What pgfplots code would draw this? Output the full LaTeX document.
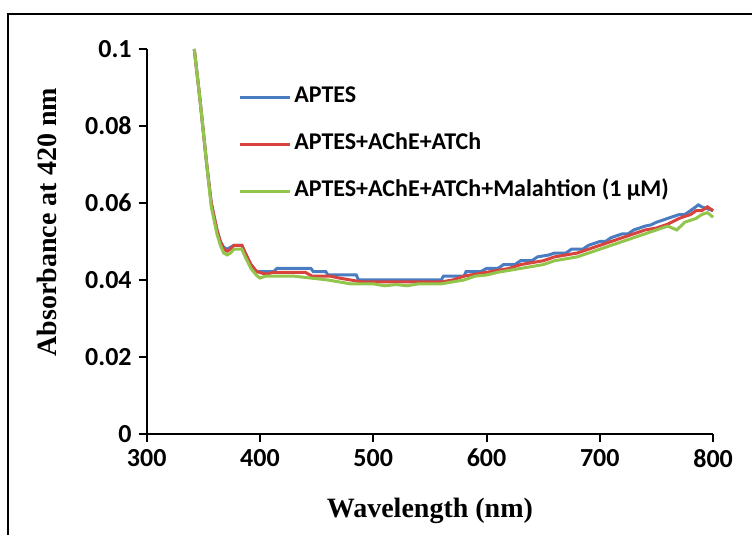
\documentclass[border=0pt]{standalone}
\usepackage{fontspec}
\setmainfont{Liberation Serif}
\newfontfamily\carlito{Carlito}
\usepackage{pgfplots}
\pgfplotsset{compat=1.18}
\definecolor{cblue}{HTML}{4A7CC2}
\definecolor{cred}{HTML}{D8433E}
\definecolor{cgreen}{HTML}{92C54B}
\begin{document}
\begin{tikzpicture}
\begin{axis}[
  at={(0pt,0pt)}, anchor=south west,
  scale only axis, width=283.2pt, height=192.5pt,
  xmin=300, xmax=800, ymin=0, ymax=0.1,
  axis x line*=bottom, axis y line*=left,
  axis line style={line width=1pt, black},
  tick align=outside, major tick length=4pt,
  tick style={line width=1pt, black},
  xtick={300,400,500,600,700,800},
  ytick={0,0.02,0.04,0.06,0.08,0.1},
  yticklabels={0,0.02,0.04,0.06,0.08,0.1},
  scaled y ticks=false,
  /pgf/number format/assume math mode=true,
  ticklabel style={font=\carlito\bfseries\fontsize{13}{15}\selectfont},
  clip=false,
  xlabel={Wavelength (nm)},
  ylabel={Absorbance at 420 nm},
  xlabel style={font=\bfseries\fontsize{14}{16}\selectfont, at={(axis description cs:0.5,-0.218)}, anchor=base},
  ylabel style={font=\bfseries\fontsize{14}{16}\selectfont, at={(axis description cs:-0.176,0.55)}, anchor=center},
  legend style={at={(axis description cs:0.161,0.905)}, anchor=north west, draw=none, fill=none,
    inner sep=0pt, row sep=12pt,
    font=\carlito\bfseries\fontsize{12}{14}\selectfont,
    nodes={inner sep=0pt, text height=8.5pt, text depth=3pt}},
  legend cell align=left,
  legend image code/.code={\draw[#1] (0pt,0pt) -- (25pt,0pt); \path (26.5pt,0pt);},
  every axis plot/.append style={line width=1.5pt},
]
\addplot[cblue] coordinates {
(342,0.100) (347,0.087) (353,0.070) (357,0.060) (362,0.053) (365,0.050) (368,0.0485)
(371,0.048) (374,0.0485) (377,0.049) (384,0.049) (387,0.047) (392,0.044) (397,0.0422)
(405,0.0422) (412,0.0422) (415,0.043) (425,0.043) (435,0.043) (445,0.043) (447,0.0422)
(458,0.0422) (460,0.0413) (470,0.0413) (485,0.0413) (487,0.040) (500,0.040) (520,0.040)
(540,0.040) (560,0.040) (562,0.041) (580,0.041) (582,0.0422) (595,0.0422) (600,0.043)
(610,0.043) (615,0.044) (625,0.044) (630,0.045) (640,0.045) (645,0.046) (655,0.0465)
(660,0.047) (670,0.047) (675,0.048) (685,0.048) (690,0.049) (700,0.050) (705,0.050)
(710,0.051) (720,0.052) (725,0.052) (730,0.053) (740,0.054) (745,0.0543) (750,0.055)
(760,0.056) (770,0.057) (775,0.057) (780,0.058) (787,0.0595) (790,0.059) (795,0.0585) (800,0.058)
};
\addlegendentry{APTES}
\addplot[cred] coordinates {
(342,0.100) (347,0.087) (353,0.070) (357,0.060) (362,0.053) (365,0.050) (368,0.048)
(371,0.0475) (374,0.048) (377,0.049) (384,0.049) (387,0.047) (392,0.044) (397,0.0422)
(405,0.0415) (412,0.042) (420,0.042) (432,0.042) (440,0.042) (446,0.041) (455,0.041)
(462,0.041) (470,0.0405) (480,0.040) (490,0.0395) (500,0.0395) (520,0.0395) (540,0.0395)
(560,0.0395) (570,0.040) (580,0.041) (590,0.0415) (600,0.042) (610,0.0425) (620,0.043)
(630,0.044) (640,0.0445) (650,0.045) (660,0.046) (670,0.0465) (680,0.047) (690,0.048)
(700,0.049) (710,0.050) (720,0.051) (730,0.052) (740,0.053) (750,0.0535) (760,0.0545)
(770,0.056) (780,0.057) (785,0.058) (790,0.058) (795,0.059) (800,0.058)
};
\addlegendentry{APTES+AChE+ATCh}
\addplot[cgreen] coordinates {
(342,0.100) (347,0.087) (353,0.070) (357,0.059) (362,0.052) (365,0.049) (368,0.047)
(371,0.0465) (374,0.047) (377,0.048) (384,0.048) (387,0.046) (392,0.043) (397,0.0412)
(400,0.0405) (405,0.041) (415,0.041) (430,0.041) (445,0.0405) (460,0.040) (470,0.0395)
(480,0.039) (500,0.039) (510,0.0385) (520,0.0388) (530,0.0385) (540,0.039) (560,0.039)
(570,0.0395) (580,0.040) (590,0.041) (600,0.0413) (610,0.042) (620,0.0425) (630,0.043)
(640,0.0435) (650,0.044) (660,0.045) (670,0.0455) (680,0.046) (690,0.047) (700,0.048)
(710,0.049) (720,0.050) (730,0.051) (740,0.052) (750,0.053) (760,0.054) (768,0.053)
(775,0.055) (785,0.056) (790,0.057) (795,0.0575) (800,0.0563)
};
\addlegendentry{APTES+AChE+ATCh+Malahtion (1 μM)}
\end{axis}
\draw[line width=1pt] (-69.35pt,-50.5pt) -- (-69.35pt,210pt) -- (302.65pt,210pt);
\pgfresetboundingbox
\path[use as bounding box] (-73.35pt,-50.5pt) rectangle (302.65pt,217pt);
\end{tikzpicture}
\end{document}
